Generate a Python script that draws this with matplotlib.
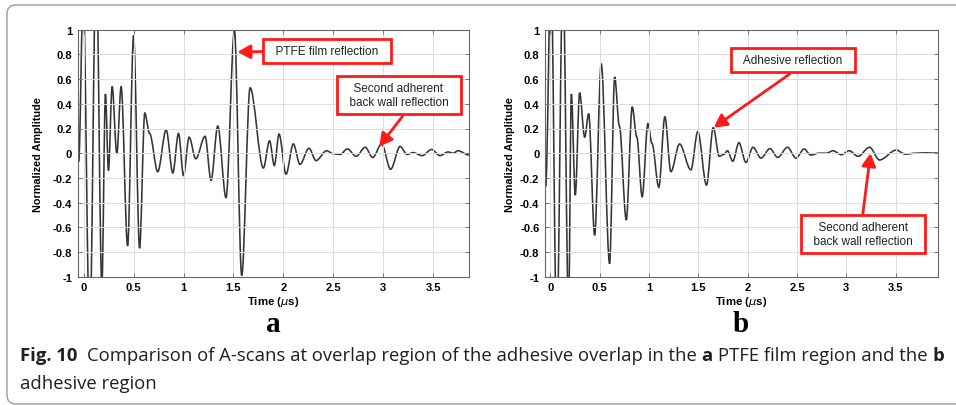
import matplotlib
matplotlib.use("Agg")
import matplotlib.pyplot as plt
from matplotlib.patches import FancyBboxPatch, PathPatch
from matplotlib.path import Path

# A-scan (a): PTFE film region -- peaks/troughs
t_a = [-0.05, -0.005, 0.06, 0.125, 0.182, 0.218, 0.248, 0.285, 0.332, 0.375, 0.44, 0.50,
       0.56, 0.612, 0.66, 0.742, 0.826, 0.893, 0.95, 1.0, 1.056, 1.123, 1.216, 1.276,
       1.343, 1.426, 1.51, 1.583, 1.667, 1.80, 1.862, 1.91, 1.957, 2.027, 2.10, 2.167,
       2.257, 2.327, 2.434, 2.50, 2.57, 2.64, 2.73, 2.82, 2.895, 2.985, 3.075, 3.17,
       3.24, 3.30, 3.39, 3.485, 3.57, 3.65, 3.70, 3.75, 3.86]
amp_a = [-0.07, 1.3, -1.5, 1.6, -1.08, 0.48, -0.14, 0.54, -0.005, 0.54, -0.75, 0.955,
         -0.77, 0.325, 0.16, -0.15, 0.19, -0.16, 0.16, -0.18, 0.13, -0.045, 0.137, -0.22,
         0.22, -0.36, 0.995, -0.99, 0.53, -0.12, 0.10, -0.10, 0.155, -0.17, 0.075, -0.09,
         0.04, -0.06, 0.02, -0.005, -0.01, 0.035, -0.025, 0.048, -0.035, 0.075, -0.13, 0.055,
         -0.01, 0.005, -0.02, 0.03, -0.02, 0.01, 0.0, 0.02, -0.015]

# A-scan (b): adhesive region
t_b = [-0.047, 0.007, 0.065, 0.128, 0.185, 0.213, 0.253, 0.297, 0.348, 0.389, 0.449, 0.516,
       0.601, 0.652, 0.70, 0.77, 0.83, 0.877, 0.931, 0.989, 1.03, 1.10, 1.161, 1.222,
       1.31, 1.425, 1.495, 1.583, 1.652, 1.712, 1.76, 1.795, 1.85, 1.912, 1.983, 2.055,
       2.135, 2.227, 2.305, 2.405, 2.49, 2.573, 2.64, 2.72, 2.80, 2.865, 2.95, 3.03,
       3.12, 3.236, 3.337, 3.506, 3.60, 3.70, 3.80, 3.93]
amp_b = [-0.27, 1.5, -1.5, 1.5, -1.3, 0.48, -0.34, 0.49, 0.13, 0.32, -0.665, 0.725,
         -0.895, 0.617, 0.22, -0.54, 0.375, 0.13, -0.355, 0.24, 0.08, -0.276, 0.296, -0.15,
         0.075, -0.135, 0.175, -0.258, 0.208, -0.025, -0.01, 0.02, -0.065, 0.085, -0.075, 0.048,
         -0.04, 0.037, -0.034, 0.048, -0.04, 0.034, -0.015, 0.0, 0.0, 0.02, -0.012, 0.02,
         -0.025, 0.048, -0.055, 0.025, -0.008, 0.0, 0.003, 0.0]

xticks = [0, 0.5, 1, 1.5, 2, 2.5, 3, 3.5]
xtick_labels = ["0", "0.5", "1", "1.5", "2", "2.5", "3", "3.5"]
yticks = [-1, -0.8, -0.6, -0.4, -0.2, 0, 0.2, 0.4, 0.6, 0.8, 1]
ytick_labels = ["-1", "-0.8", "-0.6", "-0.4", "-0.2", "0", "0.2", "0.4", "0.6", "0.8", "1"]

W, H = 956, 406
SANS = ["Liberation Sans", "DejaVu Sans"]
RED = "#ff1a1a"

plt.rcParams["font.family"] = SANS

fig = plt.figure(figsize=(W / 100, H / 100), dpi=100)


def px_rect(l, t, r, b):
    return [l / W, 1 - b / H, (r - l) / W, (b - t) / H]


def smooth_trace(ax, t, amp):
    # cubic segments between the read extrema, flat tangent at each one
    verts = [(t[0], amp[0])]
    codes = [Path.MOVETO]
    for i in range(len(t) - 1):
        d = (t[i + 1] - t[i]) / 3
        verts += [(t[i] + d, amp[i]), (t[i + 1] - d, amp[i + 1]), (t[i + 1], amp[i + 1])]
        codes += [Path.CURVE4] * 3
    ax.add_patch(PathPatch(Path(verts, codes), fc="none", ec="#353535", lw=1.15))


def scan_axes(rect, t, amp, xlim, ylab_x):
    ax = fig.add_axes(rect)
    smooth_trace(ax, t, amp)
    ax.set_xlim(*xlim)
    ax.set_ylim(-1, 1)
    ax.set_xticks(xticks)
    ax.set_xticklabels(xtick_labels)
    ax.set_yticks(yticks)
    ax.set_yticklabels(ytick_labels)
    ax.grid(True, color="#dcdcdc", lw=0.7)
    ax.tick_params(direction="in", length=3, width=0.6, top=True, right=True,
                   labelsize=8, pad=4, color="#666666")
    for lab in ax.get_xticklabels() + ax.get_yticklabels():
        lab.set_fontweight("bold")
    for sp in ax.spines.values():
        sp.set_color("#666666")
        sp.set_linewidth(0.8)
    ax.set_ylabel("Normalized Amplitude", fontsize=7.8, fontweight="bold")
    ax.yaxis.set_label_coords(ylab_x, 0.5)
    ax.set_xlabel("Time ($\\mu$s)", fontsize=8.2, fontweight="bold", va="center")
    ax.xaxis.set_label_coords(0.5, -0.1)
    return ax


def callout(ax, text, center, start, tip):
    ax.annotate("", xy=tip, xytext=start,
                arrowprops=dict(arrowstyle="-|>,head_length=0.55,head_width=0.3",
                                color=RED, lw=2.0, mutation_scale=14,
                                shrinkA=0, shrinkB=0))
    ax.text(*center, text, fontsize=8.5, ha="center", va="center", color="#222222",
            multialignment="center", linespacing=1.25, zorder=5,
            bbox=dict(boxstyle="square,pad=0.5", fc="white", ec=RED, lw=2.0))


ax_a = scan_axes(px_rect(77.7, 30.7, 469, 277.7), t_a, amp_a, (-0.06, 3.86), -0.089)
ax_b = scan_axes(px_rect(545, 30.7, 938, 277.7), t_b, amp_b, (-0.054, 3.93), -0.076)

callout(ax_a, "  PTFE film reflection  ", (2.437, 0.828), (1.787, 0.823), (1.54, 0.82))
callout(ax_a, "  Second adherent  \n  back wall reflection  ", (3.155, 0.47),
        (3.195, 0.30), (2.961, 0.054))
callout(ax_b, "  Adhesive reflection  ", (2.46, 0.755), (2.426, 0.641), (1.657, 0.208))
callout(ax_b, "  Second adherent  \n  back wall reflection  ", (3.173, -0.654),
        (3.168, -0.492), (3.246, 0.0))

# panel letters
for x, s in [(273, "a"), (741, "b")]:
    fig.text(x / W, 1 - 324 / H, s, family="Liberation Serif", fontweight="bold",
             fontsize=21, ha="center", va="center")

# caption with mixed weights, sized so the first line spans the panel width
CAP = ["Open Sans", "Liberation Sans"]
renderer = fig.canvas.get_renderer()
line1 = [("Fig. 10", "bold", 0),
         ("Comparison of A-scans at overlap region of the adhesive overlap in the", "normal", 2),
         ("a", "bold", 1), ("PTFE film region and the", "normal", 1), ("b", "bold", 1)]
line2 = [("adhesive region", "normal", 0)]


def caption_line(runs, y_px, size):
    x = 20
    space = size * 1.3889 * 0.26
    texts = []
    for text, weight, gap in runs:
        x += gap * space
        tx = fig.text(x / W, 1 - y_px / H, text, family=CAP, fontsize=size,
                      fontweight=weight, va="baseline", ha="left", color="#231f20")
        x += tx.get_window_extent(renderer).width
        texts.append(tx)
    return x, texts


end, probe = caption_line(line1, 361, 12)
for tx in probe:
    tx.remove()
cap_size = 12 * (938 - 20) / (end - 20)
caption_line(line1, 361, cap_size)
caption_line(line2, 389, cap_size)

# rounded frame around the figure panel
fig.patches.append(FancyBboxPatch((7, 1), 980, 399, boxstyle="round,pad=0,rounding_size=9",
                                  fc="none", ec="#9a9a9a", lw=1.0, transform=None))

fig.savefig("out.png", dpi=100)
